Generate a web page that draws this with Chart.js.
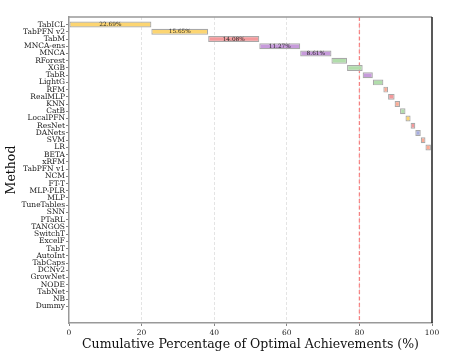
<!DOCTYPE html>
<html>
<head>
<meta charset="utf-8">
<script src="https://cdn.jsdelivr.net/npm/chart.js@4.4.1/dist/chart.umd.min.js"></script>
<style>
  html, body { margin: 0; padding: 0; background: #fff; }
  #wrap { width: 449px; height: 359px; }
</style>
</head>
<body>
<div id="wrap"><canvas id="chart" width="449" height="359"></canvas></div>
<script>
const methods = ['TabICL', 'TabPFN v2', 'TabM', 'MNCA-ens', 'MNCA', 'RForest', 'XGB', 'TabR', 'LightG', 'RFM',
    'RealMLP', 'KNN', 'CatB', 'LocalPFN', 'ResNet', 'DANets', 'SVM', 'LR', 'BETA', 'xRFM',
    'TabPFN v1', 'NCM', 'FT-T', 'MLP-PLR', 'MLP', 'TuneTables', 'SNN', 'PTaRL', 'TANGOS', 'SwitchT',
    'ExcelF', 'TabT', 'AutoInt', 'TabCaps', 'DCNv2', 'GrowNet', 'NODE', 'TabNet', 'NB', 'Dummy'];
// share of optimal achievements (%) per method
const shares = [22.69, 15.65, 14.08, 11.27, 8.61, 4.3, 4.3, 2.8, 2.9, 1.3,
    1.8, 1.5, 1.5, 1.4, 1.3, 1.5, 1.3, 1.5, 0.1, 0.1,
    0.1, 0, 0, 0, 0, 0, 0, 0, 0, 0,
    0, 0, 0, 0, 0, 0, 0, 0, 0, 0];
const colors = ['#fcd572', '#fcd572', '#f39a9c', '#c79bdb', '#c79bdb', '#b1ddab', '#b1ddab', '#c79bdb', '#b1ddab', '#fbab95',
    '#f39a9c', '#fbab95', '#b1ddab', '#fcd572', '#f39a9c', '#a6acdf', '#fbab95', '#fbab95', '#bbbbbb', '#bbbbbb',
    '#bbbbbb'];
const xTicks = [0, 20, 40, 60, 80, 100];
const threshold = 80;

// floating bars: each starts where the previous one ended
let running = 0;
const barData = methods.map((m, i) => {
    const start = running;
    running += shares[i];
    return { x: shares[i] > 0 ? [start, running] : null, y: i };
});

const serif = "'DejaVu Serif', serif";

const extras = {
    id: 'extras',
    beforeDatasetsDraw(chart) {
        const { ctx, chartArea, scales } = chart;
        const x = scales.x.getPixelForValue(threshold);
        ctx.save();
        ctx.strokeStyle = 'rgba(250, 90, 90, 0.7)';
        ctx.lineWidth = 1.3;
        ctx.setLineDash([4, 2.5]);
        ctx.beginPath();
        ctx.moveTo(x, chartArea.top);
        ctx.lineTo(x, chartArea.bottom);
        ctx.stroke();
        ctx.restore();
    },
    afterDatasetsDraw(chart) {
        const { ctx, chartArea } = chart;
        const meta = chart.getDatasetMeta(0);
        ctx.save();
        ctx.font = "5.8px " + serif;
        ctx.fillStyle = '#2a2a2a';
        ctx.textAlign = 'center';
        ctx.textBaseline = 'middle';
        meta.data.forEach((bar, i) => {
            if (shares[i] > 5) {
                ctx.fillText(shares[i].toFixed(2) + '%', (bar.x + bar.base) / 2, bar.y);
            }
        });
        // frame: top gray, right dark
        ctx.lineWidth = 1.5;
        ctx.strokeStyle = '#999';
        ctx.beginPath();
        ctx.moveTo(chartArea.left, chartArea.top);
        ctx.lineTo(chartArea.right, chartArea.top);
        ctx.stroke();
        ctx.strokeStyle = '#222';
        ctx.beginPath();
        ctx.moveTo(chartArea.right, chartArea.top);
        ctx.lineTo(chartArea.right, chartArea.bottom);
        ctx.stroke();
        ctx.restore();
    }
};

new Chart(document.getElementById('chart'), {
    type: 'bar',
    data: {
        datasets: [{
            data: barData,
            backgroundColor: colors,
            borderColor: '#a8a8a8',
            borderWidth: 1.2,
            borderSkipped: false,
            barPercentage: 0.82,
            categoryPercentage: 1.0
        }]
    },
    options: {
        indexAxis: 'y',
        responsive: false,
        animation: false,
        layout: { padding: { top: 17, right: 17, left: 0, bottom: 0 } },
        plugins: { legend: { display: false }, tooltip: { enabled: false } },
        scales: {
            x: {
                type: 'linear',
                min: 0,
                max: 100,
                afterBuildTicks: (scale) => { scale.ticks = xTicks.map(v => ({ value: v })); },
                afterFit: (scale) => { scale.height = 36; },
                ticks: { font: { family: serif, size: 7.5 }, color: '#222', padding: 3, maxRotation: 0 },
                grid: {
                    color: (c) => (c.tick && (c.tick.value === 0 || c.tick.value === 100)) ? 'rgba(0,0,0,0)' : '#dddddd',
                    lineWidth: 0.8,
                    tickLength: 3,
                    tickColor: '#666',
                    tickWidth: 0.8
                },
                border: { display: true, color: '#999', width: 1.5, dash: [3, 2] },
                title: {
                    display: true,
                    text: 'Cumulative Percentage of Optimal Achievements (%)',
                    font: { family: serif, size: 12.5 },
                    color: '#111',
                    padding: { top: 0, bottom: 7 }
                }
            },
            y: {
                type: 'linear',
                reverse: true,
                offset: false,
                min: -1.05,
                max: 41.3,
                afterBuildTicks: (scale) => { scale.ticks = methods.map((m, i) => ({ value: i })); },
                afterFit: (scale) => { scale.width = 69; },
                ticks: {
                    autoSkip: false,
                    font: { family: serif, size: 7.5 },
                    color: '#222',
                    padding: 1,
                    callback: (v) => methods[v]
                },
                grid: { drawOnChartArea: false, offset: false, tickLength: 3, tickColor: '#666', tickWidth: 0.8 },
                border: { display: true, color: '#999', width: 1.5 },
                title: {
                    display: true,
                    text: 'Method',
                    font: { family: serif, size: 12.5 },
                    color: '#111',
                    padding: { top: 4, bottom: 0 }
                }
            }
        }
    },
    plugins: [extras]
});
</script>
</body>
</html>
